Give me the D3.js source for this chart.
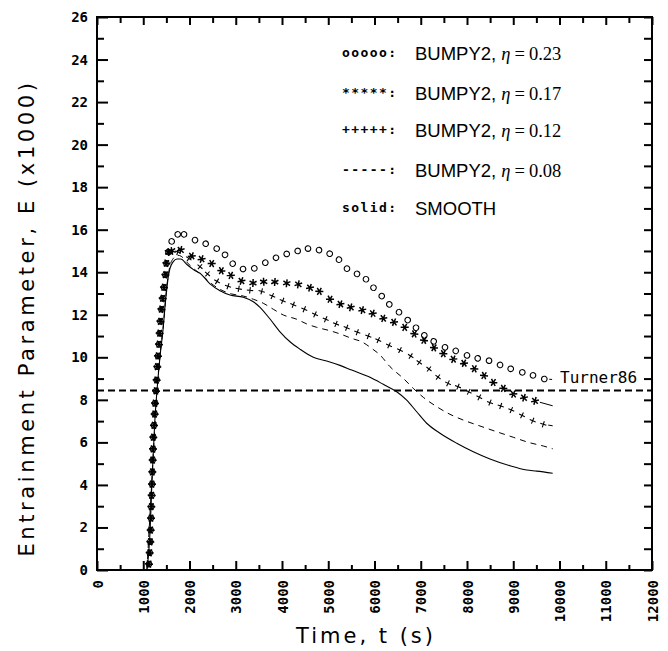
<!DOCTYPE html>
<html>
<head>
    <title>Entrainment parameter</title>
    <style type="text/css">
        body { margin: 0; background: #fff; }
        svg text { fill: #000; }
        .tick text { font-family: "DejaVu Sans Mono", monospace; font-weight: bold; font-size: 14px; }
        .tick line { stroke: #000; stroke-width: 2; }
        .domain { display: none; }
        .title { font-family: "DejaVu Sans", sans-serif; font-size: 21px; }
        .key { font-family: "DejaVu Sans Mono", monospace; font-weight: bold; font-size: 13px; letter-spacing: 1.4px; }
        .name { font-family: "Liberation Sans", Arial, sans-serif; font-size: 18.5px; }
        .math { font-family: "Liberation Serif", serif; font-size: 18.5px; }
    </style>
</head>
<body>
<script src="https://d3js.org/d3.v7.min.js" type="text/javascript"></script>
<script type="text/javascript">

// ticks
var xTicks = [0, 1000, 2000, 3000, 4000, 5000, 6000, 7000, 8000, 9000, 10000, 11000, 12000];
var xMinor = [500, 1500, 2500, 3500, 4500, 5500, 6500, 7500, 8500, 9500, 10500, 11500];
var yTicks = [0, 2, 4, 6, 8, 10, 12, 14, 16, 18, 20, 22, 24, 26];
var yMinor = [1, 3, 5, 7, 9, 11, 13, 15, 17, 19, 21, 23, 25];

var turner86 = 8.44;

// steep start, common to all marker series [t, E]
var rise = [[1124,0.28],[1139,0.81],[1152,1.33],[1161,1.88],[1168,2.44],[1174,2.98],[1183,3.51],
    [1189,4.04],[1196,4.61],[1204,5.17],[1211,5.69],[1217,6.24],[1232,6.80],[1247,7.33],[1254,7.84],
    [1276,8.42],[1290,8.93],[1303,9.56],[1318,10.06],[1340,10.61],[1355,11.13],[1370,11.69],
    [1392,12.26],[1420,12.77],[1448,13.29],[1478,13.88],[1500,14.42],[1545,14.95]];

// eta = 0.23 (circles)
var bumpy23 = [[1615,15.45],[1745,15.78],[1881,15.78],[2119,15.51],[2350,15.34],[2588,15.11],
    [2768,14.82],[2934,14.40],[3157,14.15],[3401,14.18],[3639,14.45],[3870,14.68],[4102,14.86],
    [4339,15.00],[4562,15.11],[4800,15.04],[5031,14.87],[5232,14.59],[5405,14.17],[5622,13.92],
    [5816,13.67],[5978,13.27],[6156,12.88],[6320,12.49],[6530,12.12],[6718,11.75],[6897,11.39],
    [7077,11.03],[7280,10.75],[7524,10.47],[7756,10.30],[8000,10.09],[8231,9.95],[8476,9.84],
    [8714,9.64],[8945,9.46],[9196,9.29],[9427,9.15],[9671,8.98]];
// eta = 0.17 (stars)
var bumpy17 = [[1620,15.00],[1810,15.05],[2048,14.76],[2262,14.62],[2480,14.41],[2688,14.07],
    [2893,13.85],[3124,13.59],[3373,13.49],[3604,13.55],[3845,13.54],[4102,13.48],[4353,13.43],
    [4605,13.27],[4807,13.10],[5038,12.73],[5263,12.50],[5485,12.35],[5736,12.22],[5961,12.06],
    [6190,11.83],[6422,11.65],[6653,11.41],[6861,11.10],[7070,10.80],[7286,10.45],[7488,10.17],
    [7704,9.91],[7935,9.72],[8158,9.46],[8368,9.14],[8569,8.82],[8785,8.54],[9001,8.27],
    [9232,8.10],[9470,7.95]];
// eta = 0.12 (pluses)
var bumpy12 = [[1745,14.95],[1985,14.65],[2227,14.26],[2389,13.92],[2595,13.57],[2832,13.34],
    [3064,13.22],[3308,13.15],[3561,13.10],[3790,12.88],[4015,12.66],[4244,12.47],[4482,12.26],
    [4714,12.02],[4945,11.79],[5168,11.57],[5399,11.39],[5628,11.18],[5866,11.00],[6082,10.81],
    [6314,10.56],[6551,10.34],[6782,10.06],[6968,9.76],[7178,9.45],[7373,9.07],[7589,8.78],
    [7805,8.62],[8036,8.38],[8266,8.12],[8497,7.87],[8729,7.71],[8958,7.52],[9189,7.27],
    [9420,7.02],[9650,6.85]];
// where each marker series stops (short line after last marker)
var markerEnds = [[9840,8.96], [9853,7.72], [9853,6.78]];

// eta = 0.08 (dashed)
var bumpy08 = [[1080,0],[1196,4.6],[1304,8.7],[1362,10.1],[1434,11.5],[1507,13.3],[1578,14.3],
    [1650,14.65],[1740,14.8],[1820,14.75],[1950,14.45],[2100,14.15],[2300,13.8],[2514,13.40],
    [2623,13.24],[2912,12.98],[3163,12.88],[3380,12.73],[3596,12.54],[3812,12.26],[4028,11.99],
    [4318,11.79],[4534,11.57],[4750,11.41],[5038,11.25],[5254,11.10],[5507,10.89],[5723,10.73],
    [5939,10.42],[6119,10.11],[6335,9.56],[6623,9.01],[6839,8.54],[7055,8.12],[7345,7.68],
    [7632,7.32],[7920,7.05],[8281,6.77],[8642,6.50],[9001,6.24],[9362,5.98],[9650,5.83],[9853,5.70]];
// smooth (solid)
var smooth = [[1080,0],[1140,1.5],[1196,4.55],[1250,7.0],[1304,8.62],[1362,10.03],[1434,11.44],
    [1470,12.38],[1507,13.16],[1542,13.79],[1578,14.18],[1650,14.5],[1730,14.62],[1810,14.62],
    [1950,14.35],[2100,14.1],[2227,13.95],[2443,13.45],[2659,13.13],[2876,12.93],[3163,12.82],
    [3380,12.61],[3524,12.35],[3741,11.80],[3957,11.20],[4173,10.73],[4389,10.38],[4677,10.0],
    [4966,9.83],[5254,9.62],[5507,9.40],[5903,9.06],[6190,8.73],[6480,8.38],[6696,7.99],
    [6912,7.44],[7128,6.90],[7416,6.43],[7778,5.96],[8136,5.56],[8497,5.22],[8930,4.90],
    [9290,4.70],[9507,4.65],[9853,4.55]];

var legendKeys = ['ooooo:', '*****:', '+++++:', '-----:', 'solid:'];
var legendEta = ['0.23', '0.17', '0.12', '0.08', null];

var svg = d3.select('body').append('svg')
    .attr('width', 668)
    .attr('height', 651);

var x = d3.scaleLinear().domain([0, 12000]).range([97, 652]);
var y = d3.scaleLinear().domain([0, 26]).range([570, 17]);

// axes, ticks pointing inward
svg.append('g').attr('transform', 'translate(0,570)')
    .call(d3.axisBottom(x).tickValues(xTicks).tickSizeInner(-9).tickSizeOuter(0).tickFormat(d3.format('d')))
    .selectAll('.tick text')
    .attr('transform', 'rotate(-90)')
    .attr('x', -10).attr('y', 0).attr('dy', '0.36em')
    .attr('text-anchor', 'end');
svg.append('g').attr('transform', 'translate(0,570)')
    .call(d3.axisBottom(x).tickValues(xMinor).tickSizeInner(-5).tickSizeOuter(0).tickFormat(''));
svg.append('g').attr('transform', 'translate(0,17)')
    .call(d3.axisTop(x).tickValues(xTicks).tickSizeInner(-8).tickSizeOuter(0).tickFormat(''));
svg.append('g').attr('transform', 'translate(0,17)')
    .call(d3.axisTop(x).tickValues(xMinor).tickSizeInner(-6).tickSizeOuter(0).tickFormat(''));

svg.append('g').attr('transform', 'translate(97,0)')
    .call(d3.axisLeft(y).tickValues(yTicks).tickSizeInner(-11).tickSizeOuter(0).tickPadding(9));
svg.append('g').attr('transform', 'translate(97,0)')
    .call(d3.axisLeft(y).tickValues(yMinor).tickSizeInner(-7).tickSizeOuter(0).tickFormat(''));
svg.append('g').attr('transform', 'translate(652,0)')
    .call(d3.axisRight(y).tickValues(yTicks.concat(yMinor)).tickSizeInner(-8).tickSizeOuter(0).tickFormat(''));

svg.append('rect')
    .attr('x', 97).attr('y', 17)
    .attr('width', 652 - 97).attr('height', 570 - 17)
    .attr('fill', 'none').attr('stroke', '#000').attr('stroke-width', 2);

// titles
svg.append('text').attr('class', 'title')
    .attr('x', 366).attr('y', 643)
    .attr('text-anchor', 'middle')
    .style('letter-spacing', '3px')
    .text('Time, t (s)');
svg.append('text').attr('class', 'title')
    .attr('transform', 'translate(34,318) rotate(-90)')
    .attr('text-anchor', 'middle')
    .style('letter-spacing', '3.6px')
    .text('Entrainment Parameter, E (x1000)');

// Turner86 reference line
svg.append('line')
    .attr('x1', x(0)).attr('x2', x(12000))
    .attr('y1', y(turner86)).attr('y2', y(turner86))
    .attr('stroke', '#000').attr('stroke-width', 2)
    .attr('stroke-dasharray', '7,4');
svg.append('text')
    .attr('x', 560).attr('y', 383)
    .style('font-family', '"DejaVu Sans Mono", monospace')
    .style('font-size', '16px')
    .text('Turner86');

// lines
var line = d3.line()
    .x(function (d) { return x(d[0]); })
    .y(function (d) { return y(d[1]); })
    .curve(d3.curveMonotoneX);

svg.append('path').datum(smooth)
    .attr('d', line)
    .attr('fill', 'none').attr('stroke', '#000').attr('stroke-width', 1.1);
svg.append('path').datum(bumpy08)
    .attr('d', line)
    .attr('fill', 'none').attr('stroke', '#000').attr('stroke-width', 1)
    .attr('stroke-dasharray', '6,5');

// markers, turned along the curve
function drawMarkers(pts, kind, end) {
    var px = pts.map(function (d) { return [x(d[0]), y(d[1])]; });
    var g = svg.append('g');
    px.forEach(function (p, i) {
        var a = px[Math.max(i - 1, 0)], b = px[Math.min(i + 1, px.length - 1)];
        var ang = Math.atan2(b[1] - a[1], b[0] - a[0]) * 180 / Math.PI;
        var m = g.append('g').attr('transform', 'translate(' + p[0] + ',' + p[1] + ') rotate(' + ang + ')');
        if (kind === 'circle') {
            m.append('circle').attr('r', 2.8)
                .attr('fill', 'none').attr('stroke', '#000').attr('stroke-width', 1.1);
        } else if (kind === 'star') {
            m.append('path').attr('d', 'M0,-4L0,4M-3.5,-2L3.5,2M-3.5,2L3.5,-2')
                .attr('stroke', '#000').attr('stroke-width', 1.5);
        } else {
            m.append('path').attr('d', 'M-3.2,0L3.2,0M0,-3.2L0,3.2')
                .attr('stroke', '#000').attr('stroke-width', 1.1);
        }
    });
    var last = px[px.length - 1];
    var ex = x(end[0]), ey = y(end[1]);
    var len = Math.hypot(ex - last[0], ey - last[1]);
    var f = Math.min(5 / len, 0.9);
    g.append('line')
        .attr('x1', last[0] + (ex - last[0]) * f).attr('y1', last[1] + (ey - last[1]) * f)
        .attr('x2', ex).attr('y2', ey)
        .attr('stroke', '#000').attr('stroke-width', 1);
}

drawMarkers(rise.concat(bumpy23), 'circle', markerEnds[0]);
drawMarkers(rise.concat(bumpy17), 'star', markerEnds[1]);
drawMarkers(rise.concat(bumpy12), 'plus', markerEnds[2]);

// legend
var rowY = [60, 100, 137, 177, 215];
legendKeys.forEach(function (k, i) {
    svg.append('text').attr('class', 'key')
        .attr('x', 342).attr('y', rowY[i] - 3)
        .text(k);
    var t = svg.append('text').attr('x', 415).attr('y', rowY[i]);
    if (legendEta[i] === null) {
        t.append('tspan').attr('class', 'name').text('SMOOTH');
    } else {
        t.append('tspan').attr('class', 'name').text('BUMPY2, ');
        t.append('tspan').attr('class', 'math').style('font-style', 'italic').text('η');
        t.append('tspan').attr('class', 'math').attr('dx', 4).text('=');
        t.append('tspan').attr('class', 'math').attr('dx', 4).text(legendEta[i]);
    }
});

</script>
</body>
</html>
